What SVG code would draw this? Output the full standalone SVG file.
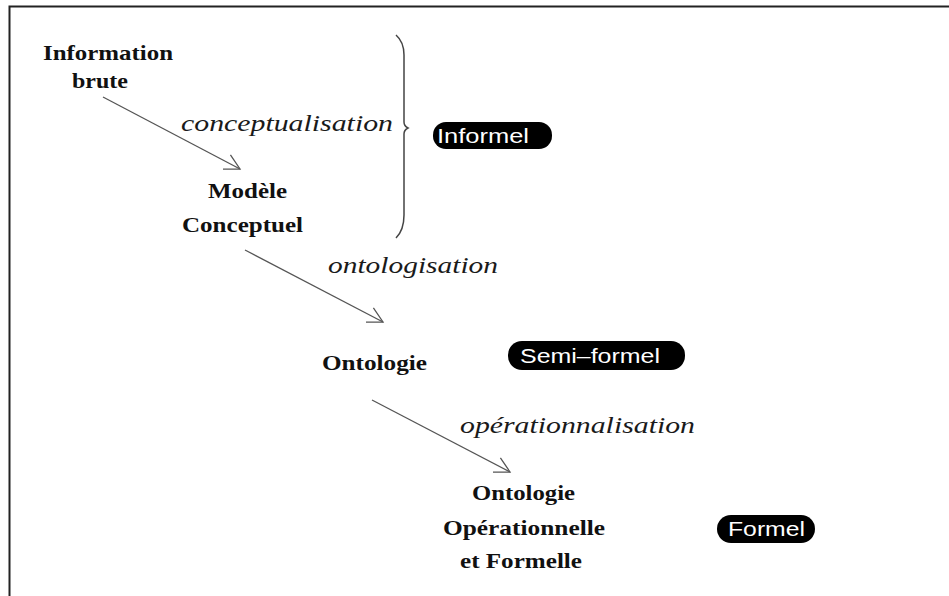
<svg xmlns="http://www.w3.org/2000/svg" width="949" height="596" viewBox="0 0 949 596">
<defs>
<style>
.node{font-family:"Liberation Serif","DejaVu Serif",serif;font-weight:bold;font-size:21px;fill:#111;}
.lbl{font-family:"Liberation Serif","DejaVu Serif",serif;font-style:italic;font-size:23px;fill:#1a1a1a;}
.pill rect{fill:#000;}
.pill text{font-family:"Liberation Sans","DejaVu Sans",sans-serif;font-size:20px;fill:#fff;}
.conn line{stroke:#555;stroke-width:1.3;fill:none;}
</style>
<marker id="ah" viewBox="-16 -10 18 20" refX="0" refY="0" markerWidth="18" markerHeight="20" markerUnits="userSpaceOnUse" orient="auto">
<path d="M-15,-8 L0,0 L-15,8" fill="none" stroke="#555" stroke-width="1.3"/>
</marker>
</defs>
<rect x="0" y="0" width="949" height="596" fill="#fff"/>
<path d="M9.5,596 V6.5 H949" fill="none" stroke="#222" stroke-width="2"/>
<g id="brace">
<path d="M396,35 Q404,42 404,55 V122 Q404,126 408,128 Q404,130 404,134 V215 Q404,230 396,238" fill="none" stroke="#444" stroke-width="1.5"/>
</g>
<g class="conn" id="connectors">
<line x1="103" y1="97" x2="240" y2="169" marker-end="url(#ah)"/>
<line x1="245" y1="250" x2="383" y2="322" marker-end="url(#ah)"/>
<line x1="372" y1="400" x2="510" y2="472" marker-end="url(#ah)"/>
</g>
<g id="info-brute">
<text class="node" x="43" y="60" textLength="130" lengthAdjust="spacingAndGlyphs">Information</text>
<text class="node" x="72" y="88" textLength="56" lengthAdjust="spacingAndGlyphs">brute</text>
</g>
<g id="modele">
<text class="node" x="208" y="198" textLength="79" lengthAdjust="spacingAndGlyphs">Modèle</text>
<text class="node" x="182" y="232" textLength="121" lengthAdjust="spacingAndGlyphs">Conceptuel</text>
</g>
<g id="ontologie">
<text class="node" x="322" y="370" textLength="105" lengthAdjust="spacingAndGlyphs">Ontologie</text>
</g>
<g id="ontologie-op">
<text class="node" x="472" y="500" textLength="103" lengthAdjust="spacingAndGlyphs">Ontologie</text>
<text class="node" x="443" y="535" textLength="162" lengthAdjust="spacingAndGlyphs">Opérationnelle</text>
<text class="node" x="460" y="568" textLength="122" lengthAdjust="spacingAndGlyphs">et Formelle</text>
</g>
<g id="labels">
<text class="lbl" x="181" y="131" textLength="212" lengthAdjust="spacingAndGlyphs">conceptualisation</text>
<text class="lbl" x="328" y="273" textLength="170" lengthAdjust="spacingAndGlyphs">ontologisation</text>
<text class="lbl" x="460" y="433" textLength="235" lengthAdjust="spacingAndGlyphs">opérationnalisation</text>
</g>
<g id="informel" class="pill">
<rect x="433" y="122" width="119" height="27" rx="13"/>
<text x="437" y="143" textLength="92" lengthAdjust="spacingAndGlyphs">Informel</text>
</g>
<g id="semi-formel" class="pill">
<rect x="508" y="341" width="177" height="29" rx="14"/>
<text x="520" y="363" textLength="140" lengthAdjust="spacingAndGlyphs">Semi–formel</text>
</g>
<g id="formel" class="pill">
<rect x="717" y="515" width="98" height="28" rx="14"/>
<text x="728" y="536" textLength="77" lengthAdjust="spacingAndGlyphs">Formel</text>
</g>
</svg>
